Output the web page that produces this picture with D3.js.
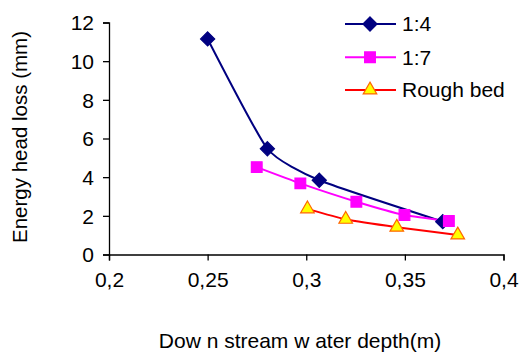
<!DOCTYPE html>
<html><head><meta charset="utf-8">
<script src="https://cdn.jsdelivr.net/npm/d3@7"></script>
<style>
html,body{margin:0;padding:0;background:#fff;}
svg text{font-family:"Liberation Sans",Arial,sans-serif;fill:#000;}
</style></head>
<body><svg id="c" width="522" height="357"></svg>
<script>
const seriesNames = ["1:4", "1:7", "Rough bed"];
const depth14 = [0.250, 0.2803, 0.3066, 0.3692];
const loss14  = [11.15, 5.47, 3.84, 1.70];
const depth17 = [0.2749, 0.2970, 0.3254, 0.3498, 0.3723];
const loss17  = [4.52, 3.68, 2.73, 2.04, 1.73];
const depthRB = [0.3006, 0.3200, 0.3459, 0.3768];
const lossRB  = [2.36, 1.82, 1.41, 1.01];
const xTicks = [0.2, 0.25, 0.3, 0.35, 0.4];
const xTickLabels = ["0,2", "0,25", "0,3", "0,35", "0,4"];
const yTicks = [0, 2, 4, 6, 8, 10, 12];
const xTitle = "Dow n stream w ater depth(m)";
const yTitle = "Energy head loss (mm)";

const svg = d3.select("#c");
const x = d3.scaleLinear().domain([0.2, 0.4]).range([109, 503.5]);
const y = d3.scaleLinear().domain([0, 12]).range([254.5, 22.5]);

const diamond = {draw(ctx, size){ const r = Math.sqrt(size/2); ctx.moveTo(0,-r); ctx.lineTo(r,0); ctx.lineTo(0,r); ctx.lineTo(-r,0); ctx.closePath(); }};
const styles = [
  {stroke:"#000080", fill:"#000080", mstroke:"#000080", sym:diamond, size:100},
  {stroke:"#FF00FF", fill:"#FF00FF", mstroke:"#FF00FF", sym:d3.symbolSquare, size:115},
  {stroke:"#FF0000", fill:"#FFFF00", mstroke:"#FF6600", sym:d3.symbolTriangle, size:80}
];
const data = [
  d3.zip(depth14, loss14),
  d3.zip(depth17, loss17),
  d3.zip(depthRB, lossRB)
];

// axes
const xAxis = d3.axisBottom(x).tickValues(xTicks).tickFormat((d,i)=>xTickLabels[i]).tickSizeOuter(0).tickSize(6).tickPadding(10);
const gx = svg.append("g").attr("transform","translate(0,254.5)").call(xAxis);
const yAxis = d3.axisLeft(y).tickValues(yTicks).tickFormat(d=>d).tickSizeOuter(0).tickSize(6).tickPadding(9);
const gy = svg.append("g").attr("transform","translate(109,0)").call(yAxis);
[gx, gy].forEach(g=>{
  g.selectAll(".domain").attr("stroke","#000").attr("stroke-width",1.3);
  g.selectAll(".tick line").attr("stroke","#000").attr("stroke-width",1.3);
  g.selectAll(".tick text").style("font-size","21px").attr("fill","#000");
});
gx.selectAll(".tick text").attr("dy","0.8em");
gy.selectAll(".tick text").attr("dy","0.35em");

// lines and markers
const line = d3.line().x(d=>x(d[0])).y(d=>y(d[1])).curve(d3.curveCardinal.tension(0.5));
data.forEach((ser,i)=>{
  const s = styles[i];
  svg.append("path").datum(ser).attr("d",line).attr("fill","none")
    .attr("stroke",s.stroke).attr("stroke-width",2);
});
data.forEach((ser,i)=>{
  const s = styles[i];
  svg.append("g").selectAll("path").data(ser).join("path")
    .attr("transform",d=>`translate(${x(d[0])},${y(d[1])})`)
    .attr("d",d3.symbol().type(s.sym).size(s.size))
    .attr("fill",s.fill).attr("stroke",s.mstroke).attr("stroke-width",1.2);
});

// legend
const legY = [24, 57.3, 90];
seriesNames.forEach((n,i)=>{
  const s = styles[i];
  const g = svg.append("g").attr("transform",`translate(0,${legY[i]})`);
  g.append("line").attr("x1",345).attr("x2",396).attr("y1",0).attr("y2",0)
    .attr("stroke",s.stroke).attr("stroke-width",2);
  g.append("path").attr("transform","translate(370,0)")
    .attr("d",d3.symbol().type(s.sym).size(s.size))
    .attr("fill",s.fill).attr("stroke",s.mstroke).attr("stroke-width",1.2);
  g.append("text").attr("x",402).attr("y",0).attr("dy","0.35em")
    .style("font-size","21px").text(n);
});

// titles
svg.append("text").attr("x",300).attr("y",348).attr("text-anchor","middle")
  .style("font-size","21px").text(xTitle);
svg.append("text").attr("transform","translate(27,137) rotate(-90)")
  .attr("text-anchor","middle").style("font-size","20.5px").text(yTitle);
</script></body></html>
